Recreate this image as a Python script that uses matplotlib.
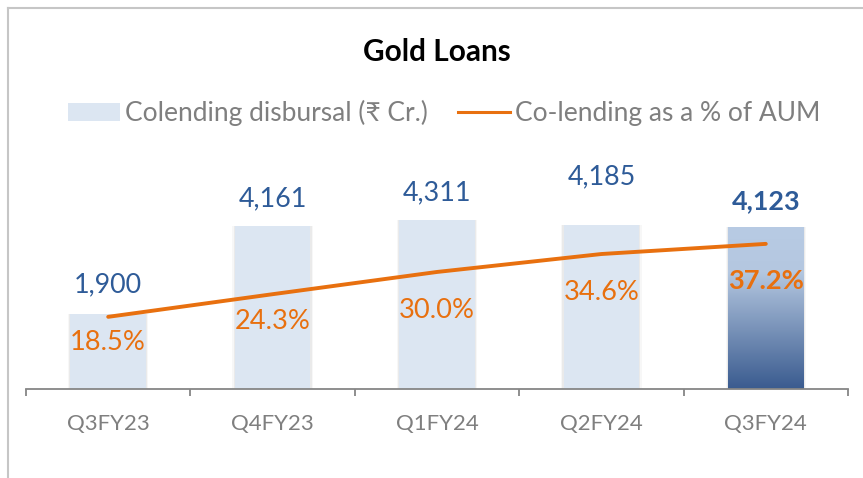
import matplotlib
matplotlib.use("Agg")
import matplotlib.pyplot as plt
import numpy as np
from matplotlib.colors import LinearSegmentedColormap
from matplotlib.lines import Line2D
from matplotlib.patches import Patch

quarters = ["Q3FY23", "Q4FY23", "Q1FY24", "Q2FY24", "Q3FY24"]
disbursal = [1900, 4161, 4311, 4185, 4123]      # ₹ Cr.
aum_share = [18.5, 24.3, 30.0, 34.6, 37.2]      # % of AUM

# hand-tuned label nudges (points)
value_offsets = [21, 19.5, 19.5, 34.5, 18.7]
share_offsets = [-18.7, -19.4, -27.4, -28, -26.6]

BAR = "#dce6f2"
BLUE_TXT = "#2e5b98"
ORANGE = "#e8700f"
GRAY_TXT = "#7f7f7f"
AXIS = "#868686"
FRAME = "#c6c6c6"
FONT = ["Lato", "DejaVu Sans"]

plt.rcParams["font.family"] = FONT

W, H = 863, 478
fig = plt.figure(figsize=(W / 100, H / 100), dpi=100)
ax = fig.add_axes([26 / W, (H - 389) / H, (848 - 26) / W, 229 / H])
ax2 = ax.twinx()

x = np.arange(len(quarters))
bar_w = 0.46

# soft shadow behind the bars
for grow, alpha in [(0.03, 0.06), (0.015, 0.10)]:
    ax.bar(x, disbursal, width=bar_w + grow, color="#7f7f7f", alpha=alpha,
           zorder=1, linewidth=0)

bars = ax.bar(x, disbursal, width=bar_w, color=BAR, zorder=2, linewidth=0)

# latest quarter gets a vertical gradient fill
last = bars[-1]
last.set_facecolor("none")
grad = LinearSegmentedColormap.from_list(
    "blue_fade", [(0, "#3a5b8f"), (0.72, "#b4c7e0"), (1, "#b8cbe4")])
img = ax.imshow(np.linspace(0, 1, 256).reshape(-1, 1), cmap=grad,
                origin="lower", aspect="auto", zorder=2,
                extent=[last.get_x(), last.get_x() + last.get_width(),
                        0, last.get_height()])
img.set_clip_path(last)

ax.set_xlim(-0.5, len(quarters) - 0.5)
ax.set_ylim(0, 5830)
ax2.set_ylim(0, 58.7)

for i, v in enumerate(disbursal):
    ax.annotate(f"{v:,}", (x[i], v), xytext=(0, value_offsets[i]),
                textcoords="offset points", ha="center", va="center",
                fontsize=19.4, color=BLUE_TXT,
                fontweight="bold" if i == len(x) - 1 else "normal")

ax2.plot(x, aum_share, color=ORANGE, lw=2.8, solid_capstyle="round", zorder=3)
for i, v in enumerate(aum_share):
    ax2.annotate(f"{v:.1f}%", (x[i], v), xytext=(0, share_offsets[i]),
                 textcoords="offset points", ha="center", va="center",
                 fontsize=19.6, color=ORANGE,
                 fontweight="bold" if i == len(x) - 1 else "normal")

for a in (ax, ax2):
    for side in ("top", "right", "left"):
        a.spines[side].set_visible(False)
    a.set_yticks([])
ax2.spines["bottom"].set_visible(False)
ax.spines["bottom"].set_color(AXIS)
ax.spines["bottom"].set_linewidth(1.3)
ax.spines["bottom"].set_zorder(4)

ax.set_xticks(x)
ax.set_xticklabels(quarters, fontsize=16, color=GRAY_TXT)
ax.tick_params(axis="x", which="major", length=0, pad=18)
ax.set_xticks(np.arange(-0.5, len(quarters)), minor=True)
ax.tick_params(axis="x", which="minor", length=5, width=1.3, color=AXIS,
               direction="out")

fig.text(437 / W, 1 - 52 / H, "Gold Loans", ha="center", va="center",
         fontsize=21.4, fontweight="bold", color="black")

handles = [Patch(facecolor=BAR, edgecolor="none"),
           Line2D([0], [0], color=ORANGE, lw=2.2)]
fig.legend(handles, ["Colending disbursal (₹ Cr.)", "Co-lending as a % of AUM"],
           loc="center", bbox_to_anchor=(444 / W, 1 - 113 / H), ncol=2,
           frameon=False, fontsize=19, labelcolor=GRAY_TXT,
           handlelength=1.97, handleheight=0.64, handletextpad=0.19,
           columnspacing=1.14)

# outer chart frame (top and left edges)
fig.add_artist(Line2D([8 / W, 1], [1 - 8 / H] * 2, transform=fig.transFigure,
                      color=FRAME, lw=1.5))
fig.add_artist(Line2D([8 / W] * 2, [0, 1 - 8 / H], transform=fig.transFigure,
                      color=FRAME, lw=1.5))

fig.savefig("out.png", dpi=100)
